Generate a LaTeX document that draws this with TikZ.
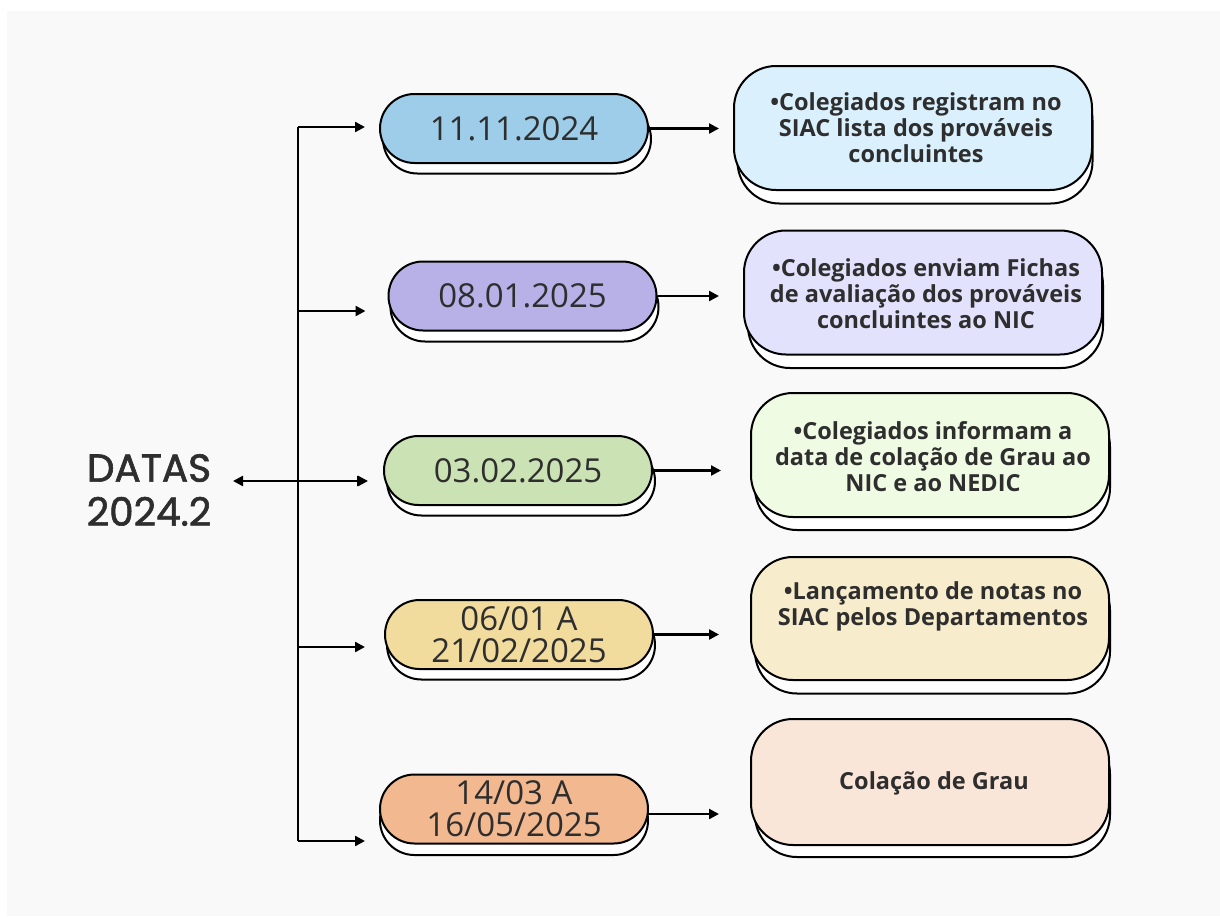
\documentclass[tikz,border=0pt]{standalone}
\usepackage{fontspec}
\setmainfont{Open Sans}
\newfontfamily\popfont[FakeBold=1.6]{Poppins}
\usetikzlibrary{shapes.misc,arrows.meta}
\definecolor{bgc}{HTML}{F9F9F9}
\definecolor{txt}{HTML}{2E2E2E}
\definecolor{pa}{HTML}{9DCDE9}
\definecolor{pb}{HTML}{B8B1E8}
\definecolor{pc}{HTML}{CBE2B4}
\definecolor{pd}{HTML}{F1DC9E}
\definecolor{pe}{HTML}{F2B890}
\definecolor{ba}{HTML}{DAF0FD}
\definecolor{bb}{HTML}{E2E2FD}
\definecolor{bc}{HTML}{F0FBE4}
\definecolor{bd}{HTML}{F7ECCB}
\definecolor{be}{HTML}{FAE6D9}
\tikzset{
  pill/.style={rounded rectangle, draw=black, line width=2pt, minimum width=268pt, minimum height=69pt, inner sep=0pt, text=txt, align=center, font=\fontsize{33}{32}\selectfont},
  pillback/.style={rounded rectangle, draw=black, fill=white, line width=2pt, minimum width=268pt, minimum height=69pt, inner sep=0pt},
  infobox/.style={rectangle, rounded corners=42pt, draw=black, line width=2pt, minimum width=358pt, minimum height=124pt, inner sep=0pt, text=txt, align=center, font=\fontsize{23.5}{26}\selectfont\bfseries},
  infotext/.style={text=txt, align=center, font=\fontsize{23.5}{26}\selectfont\bfseries},
  infoback/.style={rectangle, rounded corners=42pt, draw=black, fill=white, line width=2pt, minimum width=355pt, minimum height=125pt, inner sep=0pt},
  arr/.style={line width=2.3pt, -{Triangle[length=10pt,width=10pt]}},
  arrboth/.style={line width=2.3pt, {Triangle[length=10pt,width=10pt]}-{Triangle[length=10pt,width=10pt]}},
  spine/.style={line width=2.3pt}
}
\begin{document}
\begin{tikzpicture}[x=1pt,y=-1pt]
\useasboundingbox (0,0) rectangle (1220,916);
\fill[bgc] (7,11) rectangle (1220,916);

% title
\node[text=txt, align=center, font=\popfont\fontsize{39}{44}\selectfont] (datas) at (149,490) {DATAS\\2024.2};

% date pills (shadow then front)
\node[pillback] (d1s) at (517,139) {};
\node[pill, fill=pa] (d1) at (514,128.5) {11.11.2024};
\node[pillback] (d2s) at (524.5,307) {};
\node[pill, fill=pb] (d2) at (522.5,296) {08.01.2025};
\node[pillback] (d3s) at (521,481) {};
\node[pill, fill=pc] (d3) at (518,470.5) {03.02.2025};
\node[pillback] (d4s) at (521,645) {};
\node[pill, fill=pd] (d4) at (519,634.5) {06/01 A\\21/02/2025};
\node[pillback] (d5s) at (514,820.5) {};
\node[pill, fill=pe] (d5) at (514,809) {14/03 A\\16/05/2025};

% info boxes (shadow then front)
\node[infoback] (b1s) at (915,141) {};
\node[infobox, fill=ba] (b1) at (913,128) {};
\node[infotext] (b1t) at (916,128) {\textbullet Colegiados registram no\\SIAC lista dos prováveis\\concluintes};
\node[infoback] (b2s) at (925.5,305.5) {};
\node[infobox, fill=bb] (b2) at (923,292.5) {};
\node[infotext] (b2t) at (926,294) {\textbullet Colegiados enviam Fichas\\de avaliação dos prováveis\\concluintes ao NIC};
\node[infoback] (b3s) at (932.5,467.5) {};
\node[infobox, fill=bc] (b3) at (930,455) {};
\node[infotext] (b3t) at (933,457) {\textbullet Colegiados informam a\\data de colação de Grau ao\\NIC e ao NEDIC};
\node[infoback] (b4s) at (932.5,631) {};
\node[infobox, fill=bd, minimum height=123pt] (b4) at (930,618.5) {};
\node[infotext] (b4t) at (933,606) {\textbullet Lançamento de notas no\\SIAC pelos Departamentos};
\node[infoback] (b5s) at (932.5,794.5) {};
\node[infobox, fill=be, minimum height=126pt] (b5) at (930,782) {};
\node[infotext] (b5t) at (934,783) {Colação de Grau};

% spine
\coordinate (s1) at (298,127);
\coordinate (s2) at (298,311);
\coordinate (s3) at (298,481);
\coordinate (s4) at (298,647);
\coordinate (s5) at (298,841);
\draw[spine] (s1) -- (s5);
\draw[arr, shorten >=14pt] (s1) -- (s1 -| d1.west);
\draw[arr, shorten >=22pt] (s2) -- (s2 -| d2.west);
\draw[arr, shorten >=16pt] (s3) -- (s3 -| d3.west);
\draw[arr, shorten >=19pt] (s4) -- (s4 -| d4.west);
\draw[arr, shorten >=14pt] (s5) -- (s5 -| d5.west);

% title double arrow
\coordinate (la) at (233,481);
\coordinate (ra) at (368,481);
\draw[arrboth] (la) -- (ra);

% date -> box arrows
\draw[arr, shorten >=14pt] (d1.east) -- (d1.east -| b1.west);
\draw[arr, shorten >=24pt] (d2.east) -- (d2.east -| b2.west);
\draw[arr, shorten >=29pt] (d3.east) -- (d3.east -| b3.west);
\draw[arr, shorten >=31pt] (d4.east) -- (d4.east -| b4.west);
\coordinate (e5) at (648,814);
\draw[arr, shorten >=31pt] (e5) -- (e5 -| b5.west);
\end{tikzpicture}
\end{document}
